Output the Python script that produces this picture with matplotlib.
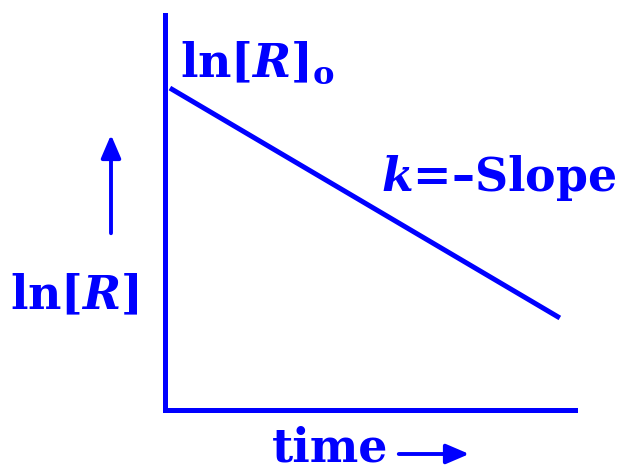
import matplotlib
matplotlib.use('Agg')
import matplotlib.pyplot as plt

# first-order kinetics: ln[R] falls linearly with time
time = [0.12, 9.63]
ln_r = [8.15, 2.33]

blue = '#0000ff'
plt.rcParams['mathtext.fontset'] = 'custom'
plt.rcParams['mathtext.rm'] = 'DejaVu Serif:bold'
plt.rcParams['mathtext.it'] = 'DejaVu Serif:italic:bold'
plt.rcParams['mathtext.bf'] = 'DejaVu Serif:bold'
plt.rcParams['font.family'] = 'DejaVu Serif'
plt.rcParams['font.weight'] = 'bold'

W, H = 632, 470
fig = plt.figure(figsize=(W / 100, H / 100), dpi=100)
ax = fig.add_axes([165 / W, 60 / H, 410 / W, 395 / H])
ax.plot(time, ln_r, color=blue, lw=3.6, solid_capstyle='butt')
ax.set_xlim(0, 10)
ax.set_ylim(0, 10)
ax.set_xticks([])
ax.set_yticks([])
for s in ['top', 'right']:
    ax.spines[s].set_visible(False)
for s in ['left', 'bottom']:
    ax.spines[s].set_color(blue)
    ax.spines[s].set_linewidth(3.6)

def px(x, y):
    return x / W, 1 - y / H

fs = 33
fig.text(*px(180, 77), r'$\mathrm{ln[}R\mathrm{]_o}$', color=blue, fontsize=fs, va='baseline')
fig.text(*px(10, 309), r'$\mathrm{ln[}R\mathrm{]}$', color=blue, fontsize=fs, va='baseline')
fig.text(*px(381, 191), r'$k$=–Slope', color=blue, fontsize=fs, va='baseline')
fig.text(*px(272, 461), 'time', color=blue, fontsize=fs, va='baseline')

# axis direction arrows
ax_kw = dict(arrowstyle='-|>,head_length=0.7,head_width=0.3', color=blue, lw=2.8)
fig.add_artist(matplotlib.patches.FancyArrowPatch(px(111, 236), px(111, 132),
                                                  transform=fig.transFigure, mutation_scale=20, **ax_kw))
fig.add_artist(matplotlib.patches.FancyArrowPatch(px(396, 454), px(472, 454),
                                                  transform=fig.transFigure, mutation_scale=20, **ax_kw))

fig.savefig('out.png', dpi=100)
